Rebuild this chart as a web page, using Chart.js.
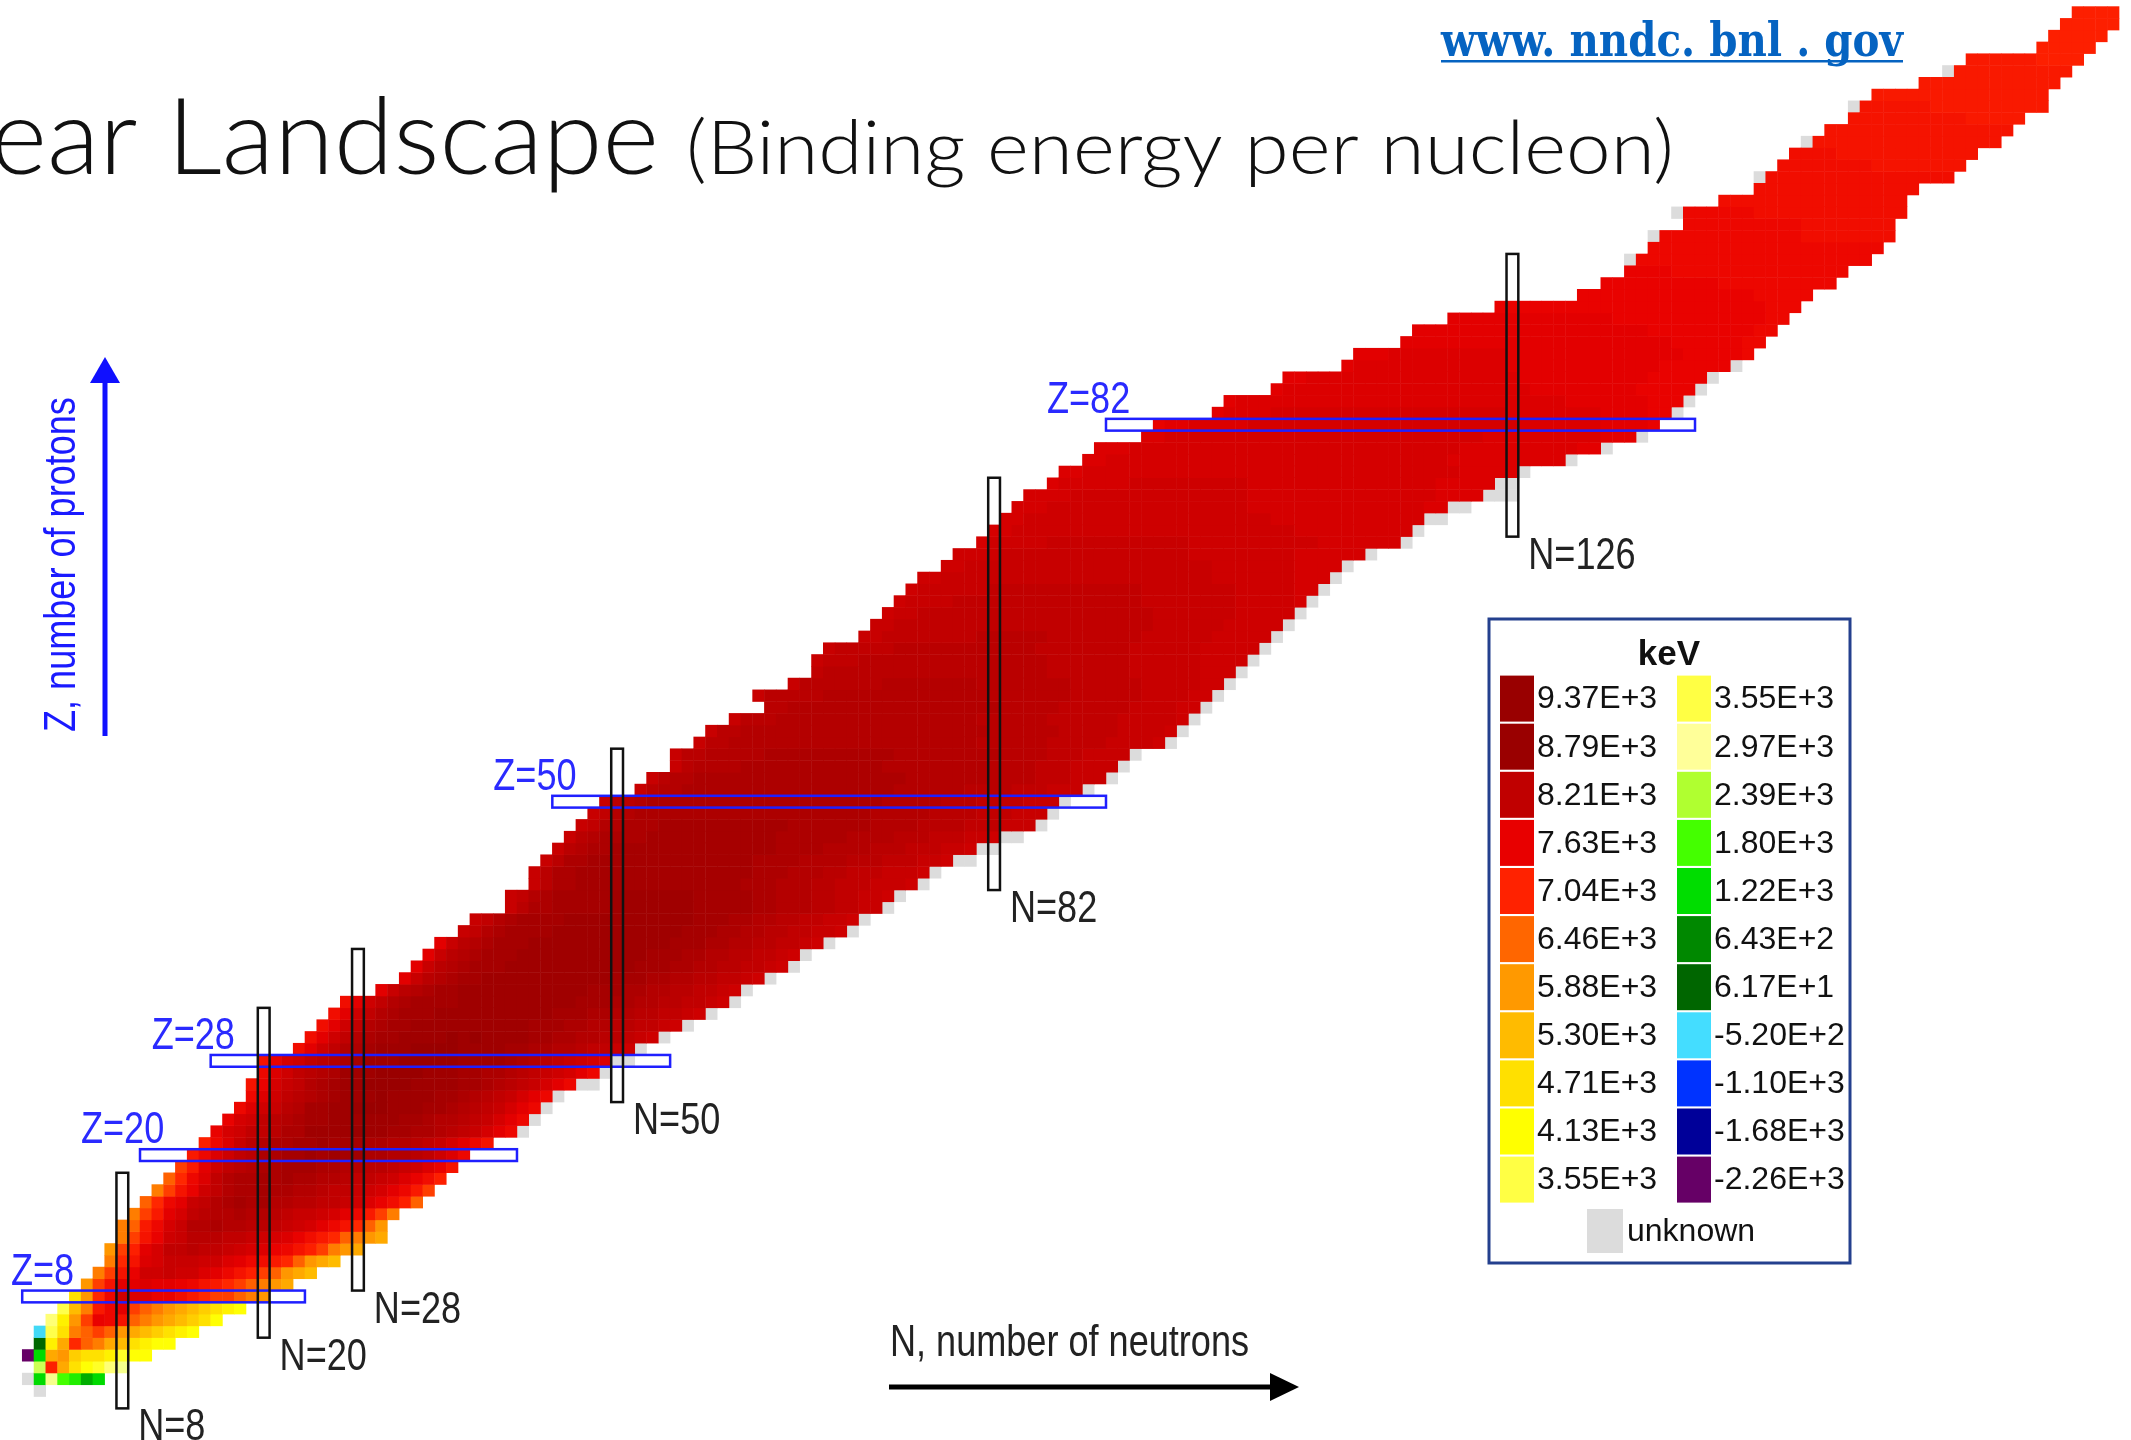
<!DOCTYPE html>
<html>
<head>
<meta charset="utf-8">
<title>Nuclear Landscape</title>
<script src="https://cdn.jsdelivr.net/npm/chart.js@4.4.1/dist/chart.umd.min.js"></script>
<style>
  html, body { margin: 0; padding: 0; background: #fff; overflow: hidden; }
  canvas { display: block; }
</style>
</head>
<body>
<canvas id="landscape" width="2131" height="1440"></canvas>
<script>
// binding energy per nucleon (keV) behind each cell code, '.' = unknown
const levelCodes = 'abcdefghijklmnopqrstuvwxyzABCDEFGHIJKLMNOPQRS';
const levelKeV = [8800, 8700, 8600, 8500, 8400, 8300, 8200, 8100, 8000, 7900, 7800, 7700, 7600,
  7500, 7400, 7300, 7200, 7100, 7000, 6800, 6500, 6200, 5900, 5600, 5300, 5000,
  4700, 4400, 4100, 3800, 3500, 3200, 2900, 2600, 2200, 1800, 1500, 1200, 900, 600, 100,
  -500, -1100, -1700, -2300];

// colour scale stops (keV)
const legendKeV = [9370, 8790, 8210, 7630, 7040, 6460, 5880, 5300, 4710, 4130, 3550,
  2970, 2390, 1800, 1220, 643, 61.7, -520, -1100, -1680, -2260];
const legendColors = ['#990000', '#9a0000', '#c00000', '#e80000', '#ff2200', '#ff6600', '#ff9900',
  '#ffbb00', '#ffe000', '#ffff00', '#ffff44', '#ffff99', '#b0ff30', '#44ff00', '#00dd00',
  '#008800', '#006600', '#44ddff', '#0033ff', '#000099', '#660066'];

// first neutron number of each row, Z = 0 .. 117
const rowStart = [1, 0, 1, 0, 1, 1, 2, 3, 4, 5, 6, 7, 7, 8, 8, 9, 10, 11, 12, 13,
  14, 15, 16, 17, 18, 19, 19, 20, 20, 23, 24, 25, 26, 27, 30, 32, 33, 34, 35, 37,
  38, 41, 41, 43, 43, 44, 45, 46, 47, 48, 49, 52, 53, 55, 55, 57, 58, 60, 63, 62,
  65, 67, 67, 68, 71, 72, 73, 74, 75, 76, 78, 79, 81, 82, 83, 84, 85, 87, 88, 90,
  91, 95, 96, 101, 102, 106, 107, 112, 113, 117, 118, 121, 125, 132, 134, 136, 136, 138, 138, 141,
  140, 144, 147, 147, 149, 150, 151, 153, 155, 155, 157, 161, 163, 165, 171, 172, 173, 174];

// cell codes along each row (letter + repeat count)
const rowCodes = [
  '.', '.LGJKML', 'HrxACDFG', 'SLxwzAABDCC', 'OBxsuvxyABCC', 'PEAvutuwxyzABC',
  'FBwtmnpuvwxyzAC', 'EyvqnltuvwxyzABC', 'Awsnikkmmoqsttuvw', 'wtpllkllmnpqstuvwx',
  'vtpmiihiiklnprtuwxy', 'vspkjhhhiiklnoqsuwxy', 'wtrljggfgghijkmnprtvwx',
  'vtpmihfffgghijkmoqsuvwx', 'vuqnjheedeeffghijlnpsuw', 'vtqljgfeedeefghhijlnqtv',
  'usnlhgedcdceeffgghikmoru', 'vtpmigeddcddeefgghijlnqt', 'usnkgeddcdcddeefgghikmor',
  'tqligfeddcccddeeffghikmp', 'qnkigfddccbcbcbddeefgikn', 'rnkhfeddccbcccddeefghjlnp',
  'mjig2fd2b4ab2c2d2efghjln.', 'mjigfedc2b6c2de2fghjln.', 'nkihfec2b2a3b3c2defghjln.',
  'nkigfedcb3ab4c2defghjln.', 'pmjhgedcb2a4b4c2defghjln.2', 'nkigfedb3a4b3c2d2efghijln.',
  'pmjigfedcb3a5b4cdefghijk.2', 'oligedcb3a4b4c2d2e2fg2hi.', 'oligedc2b4abab4c2d2e2f2ghi.',
  'oligedc2b10c3d2e2f2g2hi.', 'oligedc3b10c3d2e2f2g2hi.', 'oligedc4b10c3d2e2f2g2hi.',
  'lhfedc2b11c3d2e2f2g2hi.', 'lhfedc2b11c3d2e2f2g2hi.', 'lhfedc3b11c3d2e2f2g2hi.',
  'lhfedc3b11c3d2e2f2g2hi.', 'lhfedc3b12c3d2e2f2g2hi.', 'hgedc4b11c3d2e2f2g2h2i.',
  'hgedc4b11c3d2e2f2g2h2i.', 'hfd2c5b7c5d2e3f2g2h2.', 'hgedc5b7c5d2e3f2g2h2i.',
  'hfd2c14d3e3f2g3h3i.', 'hfd2c15d3e3f2g3h3i.', 'hfd2c14d4e4f3g3h2i.2',
  'hfed2c14d4e4f3g3h2i.2', 'hfed4c11d6e4f3g3h2i.2', 'hge2d3c11d7e4f4g3h3.',
  'hge2d20e5f4g3h3.', 'hf2ed20e5f3g4h3.', 'hfe2d18e6f4g3h3.', 'hfe2d18e7f4g3h3.',
  'hfe4d12e9f4g3h4.', 'hf2e5d11e9f4g3h4.', 'hf2e21f6g5h4i.', 'hf2e21f6g5h4i.',
  'hf3e17f6g6h5i.', 'f2e18f5g6h4i2.', 'hf5e14f7g6h4i2.', 'hf7e8f8g6h5i2.',
  'gf19g7h6i3.', 'hg3f16g7h6i4.', 'hg5f12g8h6i5.', 'h2g8f6g8h6i5.', 'h2g22h6i5.',
  'ih2g20h7i5.', 'ih4g16h8i5j.', 'ih6g13h8i5j2.', 'i2h23i7j3.', 'i2h21i7j4.',
  'i4h16i9j6.', 'ji5h12i11j7.', 'j2i24j10.', 'j2i21j13.2', 'j3i17j15k2.2',
  'j4i15j16k4.3', 'kj6i10j16k5.2', 'k2j32k5.', 'k2j29k10.', 'k3j28k10l2.',
  'k2j27k10l3.', 'ml2k5j23k7l4m', 'lk4j20k8l4m2.', 'lk28l7m3.', 'lk21l9m5.',
  'l2k18l11m5.', 'lk13l13m6.', 'l3k10l15m5n', 'l23m6n2', 'l20m9n2', 'l14m13n2',
  'm23n3', 'm15n5', 'm10n10', 'm4n15', '.n20', 'n20', '.n12o8', 'n10o8',
  '.n6o13', 'o16', 'o14', '.o16', 'o8p8', 'o4p12', '.p16', 'p16', 'p10q5',
  '.p6q10', 'q15', 'q12', '.q10', 'q6r4', 'r5', 'r5', 'r5', 'r4'
];

// magic-number bands
const magicProtons = [8, 20, 28, 50, 82];
const magicProtonFrom = [-0.5, 9.5, 15.5, 44.5, 91.5];
const magicProtonTo = [23.5, 41.5, 54.5, 91.5, 141.5];
const magicNeutrons = [8, 20, 28, 50, 82, 126];
const magicNeutronFrom = [-1.5, 4.5, 8.5, 24.5, 42.5, 72.5];
const magicNeutronTo = [18.5, 32.5, 37.5, 54.5, 77.5, 96.5];

const measured = [];
const unknown = [];
rowCodes.forEach((code, z) => {
  let n = rowStart[z];
  code.replace(/([A-Za-z.])(\d*)/g, (m, ch, count) => {
    for (let k = 0; k < (count ? +count : 1); k++, n++) {
      if (ch === '.') unknown.push({ x: n, y: z });
      else measured.push({ x: n, y: z, keV: levelKeV[levelCodes.indexOf(ch)] });
    }
    return m;
  });
});

function hexRgb(h) {
  return [1, 3, 5].map(i => parseInt(h.slice(i, i + 2), 16));
}

function keVColor(v) {
  if (v >= legendKeV[0]) return legendColors[0];
  for (let i = 1; i < legendKeV.length; i++) {
    if (v >= legendKeV[i]) {
      const t = (v - legendKeV[i]) / (legendKeV[i - 1] - legendKeV[i]);
      const lo = hexRgb(legendColors[i]), hi = hexRgb(legendColors[i - 1]);
      return 'rgb(' + lo.map((c, k) => Math.round(c + (hi[k] - c) * t)).join(',') + ')';
    }
  }
  return legendColors[legendColors.length - 1];
}

const legendLabel = v => v.toExponential(2).toUpperCase();

function cellRadius(c) {
  const sx = c.chart.scales.x;
  if (!sx) return 8;
  return (sx.getPixelForValue(1) - sx.getPixelForValue(0) + 0.5) / Math.SQRT2;
}

function narrow(ctx, text, x, y, color) {
  ctx.save();
  ctx.translate(x, y);
  ctx.scale(0.82, 1);
  ctx.font = '44px "Liberation Sans", Arial, sans-serif';
  ctx.fillStyle = color;
  ctx.textAlign = 'left';
  ctx.textBaseline = 'alphabetic';
  ctx.fillText(text, 0, 0);
  ctx.restore();
}

function fitted(ctx, text, x, y, font, width, color, align, sample) {
  ctx.save();
  ctx.font = font;
  const s = width / ctx.measureText(sample || text).width;
  ctx.translate(x, y);
  ctx.scale(s, 1);
  ctx.fillStyle = color;
  ctx.textAlign = align || 'left';
  ctx.textBaseline = 'alphabetic';
  ctx.fillText(text, 0, 0);
  ctx.restore();
}

function arrow(ctx, x0, y0, x1, y1, color, width, head, half) {
  const a = Math.atan2(y1 - y0, x1 - x0);
  const bx = x1 - head * Math.cos(a), by = y1 - head * Math.sin(a);
  ctx.save();
  ctx.strokeStyle = color;
  ctx.fillStyle = color;
  ctx.lineWidth = width;
  ctx.beginPath();
  ctx.moveTo(x0, y0);
  ctx.lineTo(bx, by);
  ctx.stroke();
  ctx.beginPath();
  ctx.moveTo(x1, y1);
  ctx.lineTo(bx + half * Math.sin(a), by - half * Math.cos(a));
  ctx.lineTo(bx - half * Math.sin(a), by + half * Math.cos(a));
  ctx.closePath();
  ctx.fill();
  ctx.restore();
}

const slideArt = {
  id: 'slideArt',
  afterDatasetsDraw(chart) {
    const { ctx, scales: { x, y } } = chart;
    ctx.save();
    ctx.lineWidth = 2.5;
    ctx.strokeStyle = '#1f1fff';
    magicProtons.forEach((z, i) => {
      const l = x.getPixelForValue(magicProtonFrom[i]), r = x.getPixelForValue(magicProtonTo[i]);
      const t = y.getPixelForValue(z + 0.5), b = y.getPixelForValue(z - 0.5);
      ctx.strokeRect(l, t, r - l, b - t);
      narrow(ctx, 'Z=' + z, Math.max(l - 59, 11), t - 6, '#2a2aff');
    });
    ctx.strokeStyle = '#111';
    magicNeutrons.forEach((n, i) => {
      const l = x.getPixelForValue(n - 0.5), r = x.getPixelForValue(n + 0.5);
      const t = y.getPixelForValue(magicNeutronTo[i]), b = y.getPixelForValue(magicNeutronFrom[i]);
      ctx.strokeRect(l, t, r - l, b - t);
      narrow(ctx, 'N=' + n, r + 10, b + 32, '#222');
    });
    ctx.restore();
  },
  afterDraw(chart) {
    const { ctx } = chart;

    // slide heading and source link
    fitted(ctx, 'Nuclear Landscape', 659, 174, '300 106px Lato, "Open Sans", sans-serif', 492, '#111', 'right', 'Landscape');
    fitted(ctx, '(Binding energy per nucleon)', 686, 174, '300 75px Lato, "Open Sans", sans-serif', 988, '#111');
    fitted(ctx, 'www. nndc. bnl . gov', 1441, 56, 'bold 46px "DejaVu Serif", serif', 462, '#0563c1');
    ctx.fillStyle = '#0563c1';
    ctx.fillRect(1441, 60, 462, 2.5);

    // axis arrows
    arrow(ctx, 105, 736, 105, 357, '#1010ff', 5, 26, 15);
    arrow(ctx, 889, 1387, 1299, 1387, '#000', 5, 29, 14);
    ctx.save();
    ctx.translate(75, 732);
    ctx.rotate(-Math.PI / 2);
    narrow(ctx, 'Z, number of protons', 0, 0, '#1a1aff');
    ctx.restore();
    narrow(ctx, 'N, number of neutrons', 890, 1356, '#222');

    // colour key
    ctx.save();
    ctx.strokeStyle = '#24408e';
    ctx.lineWidth = 3;
    ctx.strokeRect(1489, 619, 361, 644);
    ctx.fillStyle = '#111';
    ctx.font = 'bold 35px "Liberation Sans", Arial, sans-serif';
    ctx.textAlign = 'center';
    ctx.fillText('keV', 1669, 665);
    ctx.font = '32px "Liberation Sans", Arial, sans-serif';
    ctx.textAlign = 'left';
    ctx.textBaseline = 'middle';
    for (let i = 0; i < 11; i++) {
      const yc = 698.6 + i * 48.1;
      [[i, 1500, 1537], [i + 10, 1677, 1714]].forEach(([k, sx, tx]) => {
        ctx.fillStyle = legendColors[k];
        ctx.fillRect(sx, yc - 23, 34, 46);
        ctx.fillStyle = '#111';
        ctx.fillText(legendLabel(legendKeV[k]), tx, yc + 1);
      });
    }
    ctx.fillStyle = '#dcdcdc';
    ctx.fillRect(1587, 1209, 36, 44);
    ctx.fillStyle = '#111';
    ctx.fillText('unknown', 1627, 1232);
    ctx.restore();
  }
};

new Chart(document.getElementById('landscape'), {
  type: 'scatter',
  data: {
    datasets: [
      {
        label: 'keV',
        data: measured,
        pointStyle: 'rect',
        pointRadius: cellRadius,
        pointBorderWidth: 0,
        pointBackgroundColor: c => (c.raw ? keVColor(c.raw.keV) : '#c00000')
      },
      {
        label: 'unknown',
        data: unknown,
        pointStyle: 'rect',
        pointRadius: cellRadius,
        pointBorderWidth: 0,
        pointBackgroundColor: '#dcdcdc'
      }
    ]
  },
  options: {
    responsive: false,
    animation: false,
    devicePixelRatio: 1,
    events: [],
    layout: { padding: 0 },
    plugins: { legend: { display: false }, tooltip: { enabled: false } },
    scales: {
      x: { type: 'linear', min: -2.385, max: 178.51, display: false },
      y: { type: 'linear', min: -4.185, max: 118.056, display: false }
    }
  },
  plugins: [slideArt]
});
</script>
</body>
</html>
